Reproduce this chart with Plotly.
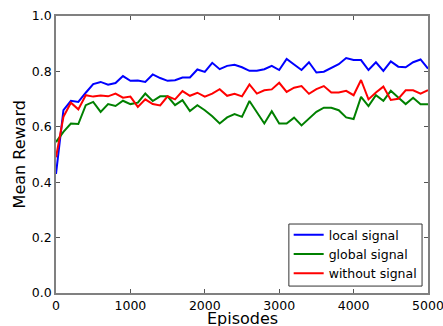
import plotly.graph_objects as go

episodes = list(range(0, 5001, 100))

local_signal = [0.43, 0.66, 0.694, 0.69, 0.723, 0.754, 0.762, 0.752, 0.758, 0.783,
                0.766, 0.767, 0.762, 0.789, 0.776, 0.766, 0.768, 0.778, 0.778, 0.807,
                0.798, 0.831, 0.808, 0.82, 0.824, 0.815, 0.802, 0.802, 0.808, 0.82,
                0.805, 0.845, 0.825, 0.805, 0.833, 0.796, 0.799, 0.813, 0.826, 0.848,
                0.841, 0.841, 0.805, 0.833, 0.802, 0.836, 0.817, 0.815, 0.833, 0.843,
                0.81]

global_signal = [0.545, 0.582, 0.612, 0.61, 0.678, 0.69, 0.654, 0.682, 0.675, 0.694,
                 0.682, 0.687, 0.72, 0.693, 0.71, 0.71, 0.678, 0.696, 0.657, 0.678,
                 0.66, 0.638, 0.612, 0.634, 0.646, 0.636, 0.693, 0.65, 0.612, 0.656,
                 0.612, 0.612, 0.633, 0.605, 0.63, 0.654, 0.669, 0.669, 0.66, 0.634,
                 0.628, 0.708, 0.675, 0.714, 0.694, 0.73, 0.706, 0.682, 0.705, 0.681,
                 0.681]

without_signal = [0.49, 0.636, 0.687, 0.663, 0.714, 0.709, 0.713, 0.71, 0.72, 0.705,
                  0.709, 0.672, 0.699, 0.682, 0.677, 0.71, 0.699, 0.729, 0.712, 0.723,
                  0.709, 0.72, 0.736, 0.712, 0.719, 0.71, 0.753, 0.72, 0.732, 0.735,
                  0.759, 0.726, 0.741, 0.747, 0.719, 0.736, 0.747, 0.724, 0.724, 0.73,
                  0.714, 0.769, 0.699, 0.724, 0.745, 0.697, 0.701, 0.732, 0.732, 0.72,
                  0.732]

series = [
    ("local signal", local_signal, "#0000ff"),
    ("global signal", global_signal, "#008000"),
    ("without signal", without_signal, "#ff0000"),
]

x_ticks = [0, 1000, 2000, 3000, 4000, 5000]
y_ticks = [0.0, 0.2, 0.4, 0.6, 0.8, 1.0]
x_title = "Episodes"
y_title = "Mean Reward"

fig = go.Figure()
for name, vals, color in series:
    fig.add_trace(go.Scatter(x=episodes, y=vals, mode="lines", name=name,
                             line=dict(color=color, width=2)))

font_family = "DejaVu Sans"
axis_common = dict(
    showgrid=False, zeroline=False, showline=True, linecolor="#808080", linewidth=1.5,
    mirror="ticks", ticks="inside", ticklen=4, tickcolor="#555555", tickwidth=1,
    tickfont=dict(family=font_family, size=12.5, color="black"),
    automargin=False, ticklabeloverflow="allow",
)

fig.update_layout(
    width=443, height=326,
    margin=dict(l=56, r=15, t=16, b=33),
    paper_bgcolor="white", plot_bgcolor="white",
    font=dict(family=font_family, color="black"),
    xaxis=dict(range=[0, 5000], tickvals=x_ticks, **axis_common),
    yaxis=dict(range=[0, 1.0], tickvals=y_ticks, tickformat=".1f", **axis_common),
    legend=dict(x=0.983, y=0.018, xanchor="right", yanchor="bottom",
                borderwidth=0, bgcolor="rgba(0,0,0,0)",
                font=dict(family=font_family, size=12.5)),
    showlegend=True,
    shapes=[dict(type="rect", xref="paper", yref="paper",
                 x0=0.626, x1=0.984, y0=0.025, y1=0.249,
                 line=dict(color="#333333", width=1), layer="above")],
    annotations=[
        dict(text=x_title, xref="paper", yref="paper", x=0.5, y=-0.092,
             xanchor="center", yanchor="middle", showarrow=False,
             font=dict(family=font_family, size=16, color="black")),
        dict(text=y_title, xref="paper", yref="paper", x=-0.097, y=0.5,
             xanchor="center", yanchor="middle", textangle=-90, showarrow=False,
             font=dict(family=font_family, size=16, color="black")),
    ],
)

fig.write_html("out.html",
               config={"displayModeBar": False},
               post_script="document.body.style.margin='0';document.body.style.overflow='hidden';")
